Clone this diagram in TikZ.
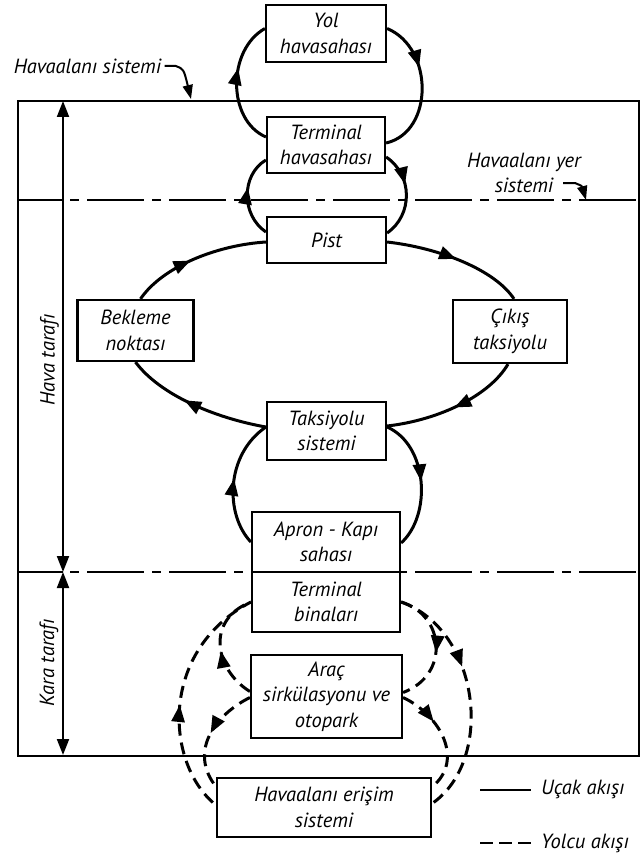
\documentclass[tikz,border=0pt]{standalone}
\usepackage{fontspec}
\setmainfont{PT Sans}
\usetikzlibrary{arrows.meta,decorations.markings,calc}

\tikzset{
  box/.style={draw, line width=2.2pt, fill=white, align=center, inner sep=0pt},
  frame/.style={line width=2pt},
  zone/.style={line width=2pt, dash pattern=on 9pt off 8pt on 57pt off 8pt},
  flow/.style={line width=3pt},
  pax/.style={line width=3pt, dash pattern=on 12pt off 7pt},
  midarrow/.style={postaction={decorate},
    decoration={markings, mark=at position #1 with {\arrow{Triangle[width=13pt,length=17pt]}}}},
  tip/.style={-{Triangle[width=10pt,length=14pt]}},
  dimarrow/.style={{Triangle[width=12pt,length=16pt]}-{Triangle[width=12pt,length=16pt]}},
}

\begin{document}
\begin{tikzpicture}[x=1pt,y=-1pt, font=\fontsize{20.5}{25.5}\selectfont\itshape]
\useasboundingbox (0,0) rectangle (640,861);

% outer frame of the airport system
\draw[frame] (18,101) rectangle (639,756);

% zone boundaries
\draw[frame] (18,200) -- (63,200);
\draw[zone] (70,200) -- (640,200);
\draw[frame] (18,572) -- (63,572);
\draw[zone] (70,572) -- (640,572);

% side dimension arrows
\coordinate (airTop) at (63,101);
\coordinate (split) at (63,572);
\coordinate (landBot) at (63,755);
\draw[frame, dimarrow] (split) -- (airTop);
\draw[frame, dimarrow] (split) -- (landBot);
\node[rotate=90] (hava) at (49.5,360) {Hava tarafı};
\node[rotate=90] (kara) at (49,663) {Kara tarafı};

% boxes
\node[box, minimum width=120pt, minimum height=57pt] (yol) at (326,33.5) {Yol\\havasahası};
\node[box, minimum width=118pt, minimum height=56pt] (thava) at (326,145) {Terminal\\havasahası};
\node[box, minimum width=119pt, minimum height=46pt] (pist) at (326.5,240) {Pist};
\node[box, minimum width=116pt, minimum height=61pt] (bekleme) at (135.5,330.5) {Bekleme\\noktası};
\node[box, minimum width=114pt, minimum height=63pt] (cikis) at (510,331.5) {Çıkış\\taksiyolu};
\node[box, minimum width=119pt, minimum height=58pt] (taksi) at (326.5,431) {Taksiyolu\\sistemi};
\node[box, minimum width=148pt, minimum height=60pt] (apron) at (326,542) {Apron - Kapı\\sahası};
\node[box, minimum width=148pt, minimum height=60pt] (tbina) at (326,602) {Terminal\\binaları};
\node[box, minimum width=151pt, minimum height=83pt] (arac) at (326.5,696.5) {Araç\\sirkülasyonu ve\\otopark};
\node[box, minimum width=214pt, minimum height=59pt] (erisim) at (324,807.5) {Havaalanı erişim\\sistemi};

% aircraft flow: terminal airspace <-> en-route airspace
\draw[flow, midarrow=0.62] ($(thava.west)+(0,-8)$) .. controls (227,120) and (227,50) .. ($(yol.west)+(0,-5)$);
\draw[flow, midarrow=0.36] ($(yol.east)+(0,-5)$) .. controls (434,48) and (434,132) .. ($(thava.east)+(0,-2)$);

% terminal airspace <-> runway
\draw[flow, midarrow=0.6] ($(pist.west)+(0,-8)$) .. controls (241,215) and (241,175) .. ($(thava.west)+(0,15)$);
\draw[flow, midarrow=0.38] ($(thava.east)+(0,12)$) .. controls (413,175) and (413,215) .. ($(pist.east)+(0,-7)$);

% runway / exit / taxiway / holding loop
\draw[flow, midarrow=0.45] ($(bekleme.north)+(5,0)$) .. controls (163,266) and (218,245) .. ($(pist.west)+(0,2)$);
\draw[flow, midarrow=0.5] ($(pist.east)+(0,2)$) .. controls (440,248) and (495,270) .. ($(cikis.north)+(4,0)$);
\draw[flow, midarrow=0.5] ($(cikis.south)+(-2,0)$) .. controls (490,395) and (440,420) .. ($(taksi.east)+(0,-5)$);
\draw[flow, midarrow=0.58] ($(taksi.west)+(0,-4)$) .. controls (215,418) and (160,395) .. (bekleme.south);

% taxiway system <-> apron
\draw[flow, midarrow=0.52] (apron.west) .. controls (225,515) and (225,455) .. ($(taksi.west)+(0,-4)$);
\draw[flow, midarrow=0.5] ($(taksi.east)+(0,-4)$) .. controls (428,445) and (432,515) .. ($(apron.east)+(0,1)$);

% passenger flow
\draw[pax, midarrow=0.45] ($(erisim.west)+(-3,-5)$) .. controls (165,760) and (160,650) .. (tbina.west);
\draw[pax, midarrow=0.45] ($(arac.west)+(0,-5)$) .. controls (215,670) and (205,620) .. (tbina.west);
\draw[pax, midarrow=0.5] ($(arac.west)+(0,1)$) .. controls (215,715) and (190,750) .. ($(erisim.north west)+(-2,7)$);
\draw[pax, midarrow=0.55] (tbina.east) .. controls (445,615) and (450,675) .. ($(arac.east)+(0,-4)$);
\draw[pax, midarrow=0.38] (tbina.east) .. controls (480,630) and (495,760) .. ($(erisim.east)+(0,-4)$);
\draw[pax, midarrow=0.35] ($(arac.east)+(0,1)$) .. controls (440,715) and (465,760) .. ($(erisim.north east)+(0,10)$);

% system labels
\node (sys) at (87.5,66) {Havaalanı sistemi};
\coordinate (sysTip) at (191,99);
\draw[line width=2pt, tip] (sys.east) -- ++(11,0) .. controls +(8,3) .. (sysTip);

\node[align=center] (ground) at (524,173) {Havaalanı yer\\sistemi};
\coordinate (groundFrom) at (563,183);
\coordinate (groundTip) at (586,200);
\draw[line width=2pt, tip] (groundFrom) -- ++(12,0) .. controls +(7,3) .. (groundTip);

% legend
\coordinate (legA1) at (480,790);
\coordinate (legA2) at (531,790);
\coordinate (legB1) at (480,843);
\coordinate (legB2) at (531,843);
\draw[line width=2.5pt] (legA1) -- (legA2);
\draw[line width=2.5pt, dash pattern=on 13pt off 6pt] (legB1) -- (legB2);
\node[anchor=west, inner sep=0pt] (legAtxt) at (541,789) {Uçak akışı};
\node[anchor=west, inner sep=0pt] (legBtxt) at (541,843) {Yolcu akışı};
\end{tikzpicture}
\end{document}
